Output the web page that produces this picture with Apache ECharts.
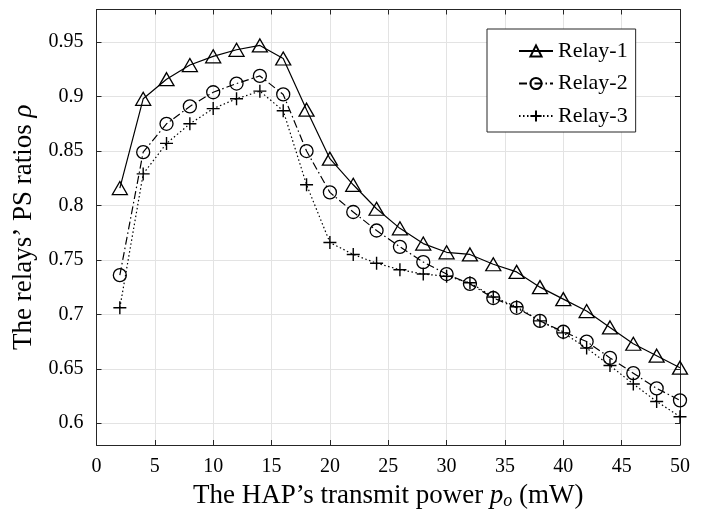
<!DOCTYPE html>
<html>
<head>
<meta charset="utf-8">
<script src="https://cdn.jsdelivr.net/npm/echarts@6/dist/echarts.min.js"></script>
<style>html,body{margin:0;padding:0;background:#fff;}#c{width:706px;height:513px;}</style>
</head>
<body>
<div id="c"></div>
<script>
const xValues = [2,4,6,8,10,12,14,16,18,20,22,24,26,28,30,32,34,36,38,40,42,44,46,48,50];
const relay1 = [0.816,0.898,0.916,0.929,0.937,0.943,0.947,0.935,0.888,0.843,0.819,0.797,0.779,0.765,0.757,0.755,0.746,0.739,0.725,0.714,0.703,0.688,0.673,0.662,0.651];
const relay2 = [0.736,0.849,0.875,0.891,0.904,0.912,0.919,0.902,0.850,0.812,0.794,0.777,0.762,0.748,0.737,0.728,0.715,0.706,0.694,0.684,0.675,0.660,0.646,0.632,0.621];
const relay3 = [0.706,0.829,0.857,0.875,0.889,0.898,0.905,0.887,0.819,0.766,0.755,0.747,0.741,0.737,0.735,0.729,0.716,0.707,0.694,0.683,0.669,0.653,0.636,0.620,0.606];
const yTicks = [0.6,0.65,0.7,0.75,0.8,0.85,0.9,0.95];
const seriesNames = ['Relay-1','Relay-2','Relay-3'];

const FONT = 'Liberation Serif';
const pair = arr => xValues.map((x,i)=>[x,arr[i]]);
const plusPath = 'path://M0,5L10,5M5,0L5,10';

const chart = echarts.init(document.getElementById('c'), null, {renderer:'canvas'});
const axisLineStyle = {color:'#262626', width:1};
const tickStyle = {show:true, inside:true, length:5, lineStyle:{color:'#262626', width:1}};
chart.setOption({
  animation:false,
  backgroundColor:'#fff',
  grid:{left:96.5, right:26, top:9.5, bottom:68, containLabel:false, outerBoundsMode:'none'},
  legend:{
    orient:'vertical', left:487, top:29,
    data:seriesNames,
    backgroundColor:'#fff', borderColor:'#262626', borderWidth:1,
    padding:[10,8,4,31], itemGap:8.5, itemWidth:34, itemHeight:14,
    textStyle:{fontFamily:FONT, fontSize:22, color:'#000', lineHeight:24}
  },
  xAxis:[{
    type:'value', min:0, max:50, interval:5, position:'bottom',
    axisLine:{show:true, onZero:false, lineStyle:axisLineStyle},
    axisTick:tickStyle,
    axisLabel:{fontFamily:FONT, fontSize:20, color:'#000', margin:12},
    splitLine:{show:true, lineStyle:{color:'#e3e3e3', width:1}},
    name:'{t|The HAP\u2019s transmit power }{i|p}{s|o}{t| (mW)}', nameLocation:'middle', nameGap:37,
    nameTextStyle:{rich:{
      t:{fontFamily:FONT, fontSize:27, color:'#000'},
      i:{fontFamily:FONT, fontSize:27, fontStyle:'italic', color:'#000'},
      s:{fontFamily:FONT, fontSize:18, fontStyle:'italic', color:'#000', verticalAlign:'bottom', padding:[10,0,0,0]}
    }}
  },{
    type:'value', min:0, max:50, interval:5, position:'top',
    axisLine:{show:true, onZero:false, lineStyle:axisLineStyle},
    axisTick:tickStyle, axisLabel:{show:false}, splitLine:{show:false}
  }],
  yAxis:[{
    type:'value', min:0.58, max:0.98, position:'left',
    axisLine:{show:true, onZero:false, lineStyle:axisLineStyle},
    axisTick:Object.assign({customValues:yTicks}, tickStyle),
    axisLabel:{fontFamily:FONT, fontSize:20, color:'#000', margin:13, customValues:yTicks,
      formatter:v=>String(parseFloat(v.toFixed(2)))},
    splitLine:{show:true, lineStyle:{color:'#e3e3e3', width:1}},
    name:'{t|The relays\u2019 PS ratios }{i|\u03c1}', nameLocation:'middle', nameGap:52,
    nameTextStyle:{rich:{
      t:{fontFamily:FONT, fontSize:27, color:'#000'},
      i:{fontFamily:FONT, fontSize:27, fontStyle:'italic', color:'#000'}
    }}
  },{
    type:'value', min:0.58, max:0.98, position:'right',
    axisLine:{show:true, onZero:false, lineStyle:axisLineStyle},
    axisTick:Object.assign({customValues:yTicks}, tickStyle),
    axisLabel:{show:false, customValues:yTicks}, splitLine:{show:false}
  }],
  series:[
    {name:seriesNames[0], type:'line', data:pair(relay1), xAxisIndex:0, yAxisIndex:0,
     symbol:'triangle', symbolSize:[15,13], showAllSymbol:true,
     itemStyle:{color:'rgba(0,0,0,0)', borderColor:'#000', borderWidth:1.3},
     lineStyle:{color:'#000', width:1.2, type:'solid'}},
    {name:seriesNames[1], type:'line', data:pair(relay2), xAxisIndex:0, yAxisIndex:0,
     symbol:'circle', symbolSize:13, showAllSymbol:true,
     itemStyle:{color:'rgba(0,0,0,0)', borderColor:'#000', borderWidth:1.3},
     lineStyle:{color:'#000', width:1.2, type:[8,3,1.5,3]}},
    {name:seriesNames[2], type:'line', data:pair(relay3), xAxisIndex:0, yAxisIndex:0,
     symbol:plusPath, symbolSize:13, showAllSymbol:true,
     itemStyle:{color:'rgba(0,0,0,0)', borderColor:'#000', borderWidth:1.4},
     lineStyle:{color:'#000', width:1.2, type:[1.5,2.5]}}
  ]
});
</script>
</body>
</html>
